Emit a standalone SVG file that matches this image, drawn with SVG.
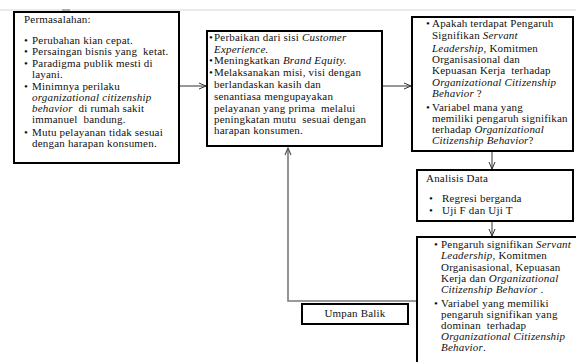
<svg xmlns="http://www.w3.org/2000/svg" width="576" height="362" viewBox="0 0 576 362">
<style>
.box{fill:#fff;stroke:#000;stroke-width:2}
text{font-family:"Liberation Serif","Times New Roman",serif;font-size:11px;letter-spacing:0.2px;fill:#111}
.i{font-style:italic}
.con{fill:none;stroke:#333;stroke-width:1}
.fb{fill:none;stroke:#7a7a7a;stroke-width:1.6}
</style>
<defs>
<marker id="ah" markerWidth="10" markerHeight="10" refX="8" refY="4" orient="auto" markerUnits="userSpaceOnUse">
<path d="M1,1 L8,4 L1,7" fill="none" stroke="#333" stroke-width="1"/>
</marker>
<marker id="ahg" markerWidth="10" markerHeight="10" refX="8" refY="4" orient="auto" markerUnits="userSpaceOnUse">
<path d="M1,1 L8,4 L1,7" fill="none" stroke="#555" stroke-width="1.2"/>
</marker>
</defs>
<rect width="576" height="362" fill="#fff"/>
<line x1="0" y1="10" x2="576" y2="10" stroke="#d6d6d6" stroke-width="1"/>
<line x1="62" y1="10" x2="70" y2="10" stroke="#999" stroke-width="1.5"/>

<g id="connectors">
<line class="con" x1="179" y1="86" x2="206" y2="86" marker-end="url(#ah)"/>
<line class="con" x1="382" y1="86" x2="411" y2="86" marker-end="url(#ah)"/>
<line class="con" x1="492" y1="151" x2="492" y2="169" marker-end="url(#ah)"/>
<line class="con" x1="492" y1="221" x2="492" y2="236" marker-end="url(#ah)"/>
<polyline class="fb" points="417,301 288,301 288,148" marker-end="url(#ahg)"/>
</g>

<g id="n1">
<rect class="box" x="14" y="12" width="165" height="151"/>
<text x="24" y="23">Permasalahan:</text>
<text x="24" y="44">•</text><text x="32" y="44">Perubahan kian cepat.</text>
<text x="24" y="55">•</text><text x="32" y="55" xml:space="preserve">Persaingan bisnis yang  ketat.</text>
<text x="24" y="67">•</text><text x="32" y="67">Paradigma publik mesti di</text>
<text x="32" y="78">layani.</text>
<text x="24" y="90">•</text><text x="32" y="90">Minimnya perilaku</text>
<text x="32" y="101" class="i">organizational citizenship</text>
<text x="32" y="112" xml:space="preserve"><tspan class="i">behavior</tspan>  di rumah sakit</text>
<text x="32" y="123" xml:space="preserve">immanuel  bandung.</text>
<text x="24" y="136">•</text><text x="32" y="136">Mutu pelayanan tidak sesuai</text>
<text x="32" y="147">dengan harapan konsumen.</text>
</g>

<g id="n2">
<rect class="box" x="207" y="31" width="175" height="115"/>
<text x="209" y="41">•</text><text x="214" y="41">Perbaikan dari sisi <tspan class="i">Customer</tspan></text>
<text x="214" y="53" class="i">Experience.</text>
<text x="209" y="64">•</text><text x="214" y="64">Meningkatkan <tspan class="i">Brand Equity.</tspan></text>
<text x="209" y="76">•</text><text x="214" y="76">Melaksanakan misi, visi dengan</text>
<text x="214" y="88">berlandaskan kasih dan</text>
<text x="214" y="100">senantiasa mengupayakan</text>
<text x="214" y="112" xml:space="preserve">pelayanan yang prima  melalui</text>
<text x="214" y="123" xml:space="preserve">peningkatan mutu  sesuai dengan</text>
<text x="214" y="134">harapan konsumen.</text>
</g>

<g id="n3">
<rect class="box" x="412" y="17" width="161" height="134"/>
<text x="426" y="27">•</text><text x="432" y="27">Apakah terdapat Pengaruh</text>
<text x="432" y="39">Signifikan <tspan class="i">Servant</tspan></text>
<text x="432" y="52"><tspan class="i">Leadership</tspan>, Komitmen</text>
<text x="432" y="63">Organisasional dan</text>
<text x="432" y="74" xml:space="preserve">Kepuasan Kerja  terhadap</text>
<text x="432" y="86" class="i">Organizational Citizenship</text>
<text x="432" y="97"><tspan class="i">Behavior</tspan> ?</text>
<text x="426" y="111">•</text><text x="432" y="111">Variabel mana yang</text>
<text x="432" y="122">memiliki pengaruh signifikan</text>
<text x="432" y="133">terhadap <tspan class="i">Organizational</tspan></text>
<text x="432" y="144"><tspan class="i">Citizenship Behavior</tspan>?</text>
</g>

<g id="n4">
<rect class="box" x="417" y="170" width="156" height="51"/>
<text x="426" y="182">Analisis Data</text>
<text x="429" y="202">•</text><text x="442" y="202">Regresi berganda</text>
<text x="429" y="214">•</text><text x="442" y="214">Uji F dan Uji T</text>
</g>

<g id="n5">
<rect class="box" x="417" y="237" width="170" height="140"/>
<text x="434" y="248">•</text><text x="441" y="248">Pengaruh signifikan <tspan class="i">Servant</tspan></text>
<text x="441" y="259"><tspan class="i">Leadership</tspan>, Komitmen</text>
<text x="441" y="271">Organisasional, Kepuasan</text>
<text x="441" y="282">Kerja dan <tspan class="i">Organizational</tspan></text>
<text x="441" y="293"><tspan class="i">Citizenship Behavior</tspan> .</text>
<text x="434" y="307">•</text><text x="441" y="307">Variabel yang memiliki</text>
<text x="441" y="318">pengaruh signifikan yang</text>
<text x="441" y="329" xml:space="preserve">dominan  terhadap</text>
<text x="441" y="340" class="i">Organizational Citizenship</text>
<text x="441" y="351"><tspan class="i">Behavior</tspan>.</text>
</g>

<g id="n6">
<rect class="box" x="302" y="304" width="106" height="20"/>
<text x="355" y="317" text-anchor="middle">Umpan Balik</text>
</g>
</svg>
